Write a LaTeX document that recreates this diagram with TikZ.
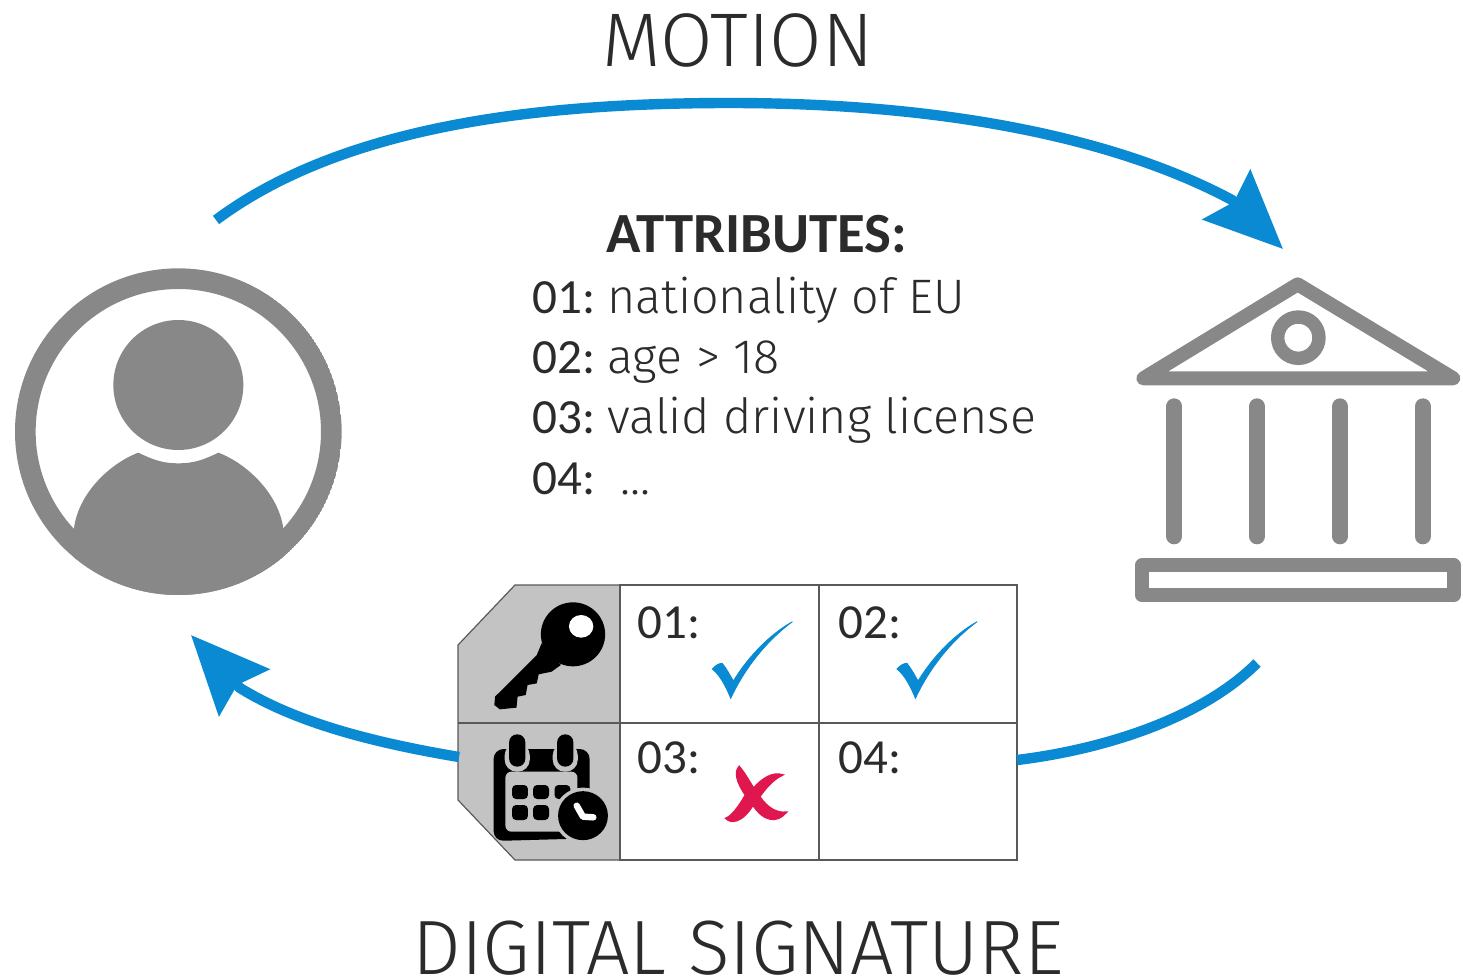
\documentclass[tikz,border=0pt]{standalone}
\usepackage{fontspec}
\setmainfont{Carlito}
\newfontfamily\thinfont[UprightFont={* Light}]{Fira Sans}
\usetikzlibrary{arrows.meta}
\definecolor{flowblue}{HTML}{0A8AD2}
\definecolor{icongray}{HTML}{888888}
\definecolor{tabgray}{HTML}{C3C3C3}
\definecolor{crossred}{HTML}{E0174F}
\definecolor{textdark}{HTML}{2B2B2B}
\tikzset{
  flow/.style={flowblue,line width=5.2pt},
  flowhead/.style={-{Stealth[length=39pt,width=34pt,inset=5pt]}},
  headline/.style={anchor=base,font=\thinfont\fontsize{38}{38}\selectfont,text=textdark,inner sep=0pt},
  attrnum/.style={anchor=base west,font=\fontsize{24.6}{25}\selectfont,text=textdark,inner sep=0pt},
  attrtxt/.style={anchor=base west,font=\thinfont\fontsize{24.2}{25}\selectfont,text=textdark,inner sep=0pt},
  celltxt/.style={anchor=base west,font=\fontsize{24.5}{25}\selectfont,text=textdark,inner sep=0pt},
  gridline/.style={draw=black!65,line width=0.6pt},
  icon/.style={icongray,line width=7pt,line join=round,line cap=round},
}
\newcommand{\checkicon}[1]{%
  \filldraw[flowblue,line width=0.4pt,shift={(#1,0)}] (710,282) .. controls (720,270) and (728,265) .. (737,265)
    .. controls (748,280) and (758,300) .. (767,318) .. controls (810,240) and (870,175) .. (927,140)
    .. controls (860,195) and (800,275) .. (760,370) .. controls (745,330) and (730,300) .. (710,282) -- cycle;}
\begin{document}
\begin{tikzpicture}[x=0.5pt,y=-0.5pt]
  \useasboundingbox (0,0) rectangle (1463,980);
  % titles
  \node[headline] (motion) at (738,66) {MOTION};
  \node[headline,font=\thinfont\fontsize{38.5}{38}\selectfont] (signature) at (738,974) {DIGITAL SIGNATURE};
  % attributes
  \node[anchor=base west,font=\bfseries\fontsize{28.4}{29}\selectfont,text=textdark,inner sep=0pt] (attrhead) at (606,252) {ATTRIBUTES:};
  \node[attrnum] (num1) at (532,313) {01:};
  \node[attrnum] (num2) at (532,373) {02:};
  \node[attrnum] (num3) at (532,433) {03:};
  \node[attrnum] (num4) at (532,494) {04:};
  \node[attrtxt] (attr1) at (607,313) {nationality of EU};
  \node[attrtxt] (attr2) at (607,373) {age > 18};
  \node[attrtxt] (attr3) at (607,433) {valid driving license};
  \node[attrtxt] (attr4) at (620,494) {...};
  % user
  \begin{scope}[shift={(0,260)},scale=1/3]
    \clip (535,515) circle (490);
    \fill[icongray,even odd rule] (535,515) circle (490) (535,515) circle (428);
    \fill[icongray] (535,375) circle (195);
    \fill[icongray] (222,805) .. controls (235,700) and (330,610) .. (415,578)
      .. controls (460,600) and (490,610) .. (535,610) .. controls (580,610) and (610,600) .. (655,578)
      .. controls (740,610) and (835,700) .. (850,805) -- (850,1010) -- (222,1010) -- cycle;
  \end{scope}
  % bank
  \begin{scope}[shift={(1120,260)},scale=1/3]
    \draw[icon] (70,355) -- (533,73) -- (1000,355) -- cycle;
    \draw[icon,line width=6.7pt] (535,233) circle (62);
    \foreach \x in {163,411,660,908}
    \draw[icon,line width=8pt] (\x,439) -- (\x,829);
    \draw[icon] (66,916) rectangle (1001,1006);
  \end{scope}
  % table
  \coordinate (tabL) at (459,757);
  \coordinate (tabR) at (1017,760);
  \coordinate (userin) at (191,635);
  \coordinate (bankout) at (1257,663);
  \coordinate (userout) at (216,220);
  \coordinate (bankin) at (1283,249);
  \fill[tabgray] (515,585) -- (458,645) -- (458,800) -- (515,860) -- (620,860) -- (620,585) -- cycle;
  \draw[gridline] (620,585) -- (515,585) -- (458,645) -- (458,800) -- (515,860) -- (620,860);
  \draw[gridline] (620,585) rectangle (1017,860);
  \draw[gridline] (458,723) -- (1017,723);
  \draw[gridline] (819,585) -- (819,860);
  \node[celltxt] (cell1) at (637,638) {01:};
  \node[celltxt] (cell2) at (838,638) {02:};
  \node[celltxt] (cell3) at (637,773) {03:};
  \node[celltxt] (cell4) at (838,773) {04:};
  \begin{scope}[shift={(450,575)},xscale=0.3694,yscale=1/3]
    % key
    \fill[black] (333,178) ellipse [x radius=87,y radius=96];
    \fill[black] (248,205) -- (235,240) -- (122,365) -- (120,390) -- (135,403) -- (180,398) -- (183,365)
      -- (205,360) -- (210,330) -- (235,325) -- (240,298) -- (275,290) -- (300,270) -- cycle;
    \fill[white] (355,154) ellipse [x radius=33,y radius=34];
    % calendar
    \fill[black,rounded corners=5pt] (118,522) -- (378,522) -- (378,790) -- (118,798) -- cycle;
    \fill[tabgray,rounded corners=3pt] (150,590) rectangle (345,770);
    \foreach \x in {182,312} {
      \fill[tabgray,rounded corners=6pt] (\x-34,505) rectangle (\x+34,590);
      \fill[black,rounded corners=4pt] (\x-22,478) rectangle (\x+22,575);
    }
    \foreach \x in {168,225,283}
    \fill[black,rounded corners=2pt] (\x,630) rectangle (\x+43,672);
    \foreach \x in {168,225}
    \fill[black,rounded corners=2pt] (\x,690) rectangle (\x+43,735);
    \fill[tabgray] (360,722) ellipse [x radius=78,y radius=84];
    \fill[black] (360,722) ellipse [x radius=67.5,y radius=73.5];
    \draw[white,line width=3.2pt,line cap=round,line join=round] (343,692) -- (360,725) -- (388,727);
    % checks and cross
    \checkicon{0}
    \checkicon{500}
    \filldraw[crossred,line width=0.9pt] (783,575) .. controls (770,590) and (775,620) .. (800,660)
      .. controls (780,700) and (760,725) .. (747,730) .. controls (760,745) and (790,745) .. (820,690)
      .. controls (850,740) and (885,745) .. (910,712) .. controls (885,715) and (860,700) .. (838,665)
      .. controls (860,630) and (880,610) .. (900,600) .. controls (875,590) and (845,610) .. (822,640)
      .. controls (805,610) and (795,590) .. (783,575) -- cycle;
  \end{scope}
  % connectors
  \draw[flow,flowhead] (userout) .. controls (350,120) and (560,103) .. (730,103)
    .. controls (950,103) and (1120,140) .. (1232,200) -- (bankin);
  \draw[flow] (bankout) .. controls (1200,720) and (1100,750) .. (tabR);
  \draw[flow,flowhead] (tabL) .. controls (370,742) and (295,722) .. (240,688) -- (userin);
\end{tikzpicture}
\end{document}
